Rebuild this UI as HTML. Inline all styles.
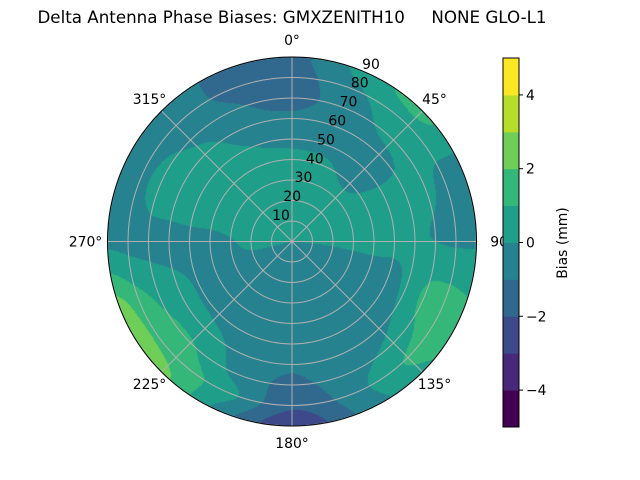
<!DOCTYPE html>
<html><head><meta charset="utf-8"><style>
body{margin:0;background:#fff;}
#wrap{position:relative;width:640px;height:480px;overflow:hidden;font-family:"DejaVu Sans","Liberation Sans",sans-serif;}
canvas,svg{position:absolute;left:0;top:0;}
</style></head><body>
<div id="wrap">
<canvas id="cv" width="640" height="480"></canvas>
<svg id="sv" width="640" height="480" font-family="DejaVu Sans, Liberation Sans, sans-serif"></svg>
</div>
<script>
const azimuths=[0,22.5,45,67.5,90,112.5,135,157.5,180,202.5,225,247.5,270,292.5,315,337.5];
const zeniths=[0,10,20,30,40,50,60,70,80,90];
const biasAz000=[0,0.4,0.5,0.5,0.3,-0.3,-0.8,-1.3,-1.4,-1.3];
const biasAz022=[0,0.4,0.5,0.5,0.2,-0.3,-0.4,-0.5,-0.2,0.3];
const biasAz045=[0,0.4,0.5,0.3,-0.2,-0.4,-0.3,0.3,0.6,1.3];
const biasAz067=[0,0.3,0.5,0.5,0.4,0.3,0.3,0.2,-0.2,-0.4];
const biasAz090=[0,0.1,0.2,0.3,0.3,0.2,0.1,0.0,-0.1,-0.1];
const biasAz112=[-0.1,-0.4,-0.5,-0.5,-0.4,-0.3,0.2,1.2,1.4,1.2];
const biasAz135=[-0.2,-0.5,-0.6,-0.6,-0.5,-0.4,-0.2,0.3,1.1,0.8];
const biasAz157=[-0.2,-0.5,-0.6,-0.6,-0.6,-0.5,-0.4,-0.4,-0.4,-0.8];
const biasAz180=[-0.2,-0.5,-0.6,-0.6,-0.7,-0.8,-0.9,-1.2,-1.8,-2.7];
const biasAz202=[-0.2,-0.5,-0.5,-0.5,-0.5,-0.5,-0.4,-0.3,0.3,-0.5];
const biasAz225=[-0.1,-0.4,-0.4,-0.3,-0.3,-0.2,0.4,1.1,1.6,2.3];
const biasAz247=[0,-0.2,-0.3,-0.4,-0.3,-0.1,0.3,0.8,1.5,2.5];
const biasAz270=[0,0.3,0.4,-0.1,-0.3,-0.3,-0.3,-0.3,-0.3,-0.2];
const biasAz292=[0,0.4,0.5,0.6,0.6,0.6,0.5,0.4,-0.3,-0.5];
const biasAz315=[0,0.4,0.5,0.6,0.6,0.5,0.3,-0.2,-0.5,-0.6];
const biasAz337=[0,0.4,0.5,0.5,0.3,0.0,-0.5,-0.9,-1.2,-1.2];
const levels=[-5,-4,-3,-2,-1,0,1,2,3,4,5];
const colorbarTicks=[-4,-2,0,2,4];
const radialTicks=[10,20,30,40,50,60,70,80,90];
const angleTicks=[0,45,90,135,180,225,270,315];

const grid=[biasAz000,biasAz022,biasAz045,biasAz067,biasAz090,biasAz112,biasAz135,biasAz157,biasAz180,biasAz202,biasAz225,biasAz247,biasAz270,biasAz292,biasAz315,biasAz337];
const colors=["#440154","#482878","#3e4989","#31688e","#26828e","#1f9e89","#35b779","#6ece58","#b5de2b","#fde725"];
const CX=292,CY=241.5,R=184.5,RMAX=90;
function rScale(z){return z/RMAX*R;}
function colorFor(v){for(let i=0;i<levels.length-1;i++){if(v<levels[i+1])return colors[i];}return colors[colors.length-1];}
function cr(p0,p1,p2,p3,t){return 0.5*((2*p1)+(-p0+p2)*t+(2*p0-5*p1+4*p2-p3)*t*t+(-p0+3*p1-3*p2+p3)*t*t*t);}
function colAt(i,z){
  const n=zeniths.length,zs=zeniths[1]-zeniths[0],g=grid[i];
  let f=z/zs,j=Math.min(Math.floor(f),n-2),t=f-j;
  const c=k=>g[Math.max(0,Math.min(n-1,k))];
  return cr(c(j-1),c(j),c(j+1),c(j+2),t);
}
function sample(az,z){
  const m=azimuths.length,step=360/m;
  let a=((az%360)+360)%360,f=a/step,i=Math.floor(f),t=f-i;
  const w=k=>colAt(((k%m)+m)%m,z);
  return cr(w(i-1),w(i),w(i+1),w(i+2),t);
}
const cv=document.getElementById('cv'),ctx=cv.getContext('2d');
for(let y=Math.floor(CY-R)-1;y<=CY+R+1;y++){for(let x=Math.floor(CX-R)-1;x<=CX+R+1;x++){
  const dx=x+0.5-CX,dy=y+0.5-CY,d=Math.hypot(dx,dy);if(d>R)continue;
  const az=Math.atan2(dx,-dy)*180/Math.PI;const z=d/R*RMAX;
  ctx.fillStyle=colorFor(sample(az,z));ctx.fillRect(x,y,1,1);}}
const sv=document.getElementById('sv');const NS='http://www.w3.org/2000/svg';
function mk(t,at,txt){const e=document.createElementNS(NS,t);for(const k in at)e.setAttribute(k,at[k]);if(txt!==undefined)e.textContent=txt;sv.appendChild(e);return e;}
radialTicks.forEach(function(r){
  const c=mk('circle',{cx:CX,cy:CY,r:rScale(r),fill:'none',stroke:'#b0b0b0','stroke-width':1});
  
  
});
angleTicks.forEach(function(a){
  const rad=a*Math.PI/180;
  const l=mk('line',{x1:CX,y1:CY,x2:CX+R*Math.sin(rad),y2:CY-R*Math.cos(rad),stroke:'#b0b0b0','stroke-width':1});
  
  
  const LR=R+17;let tx=CX+LR*Math.sin(rad),ty=CY-LR*Math.cos(rad)+5;
  if(a===90)tx+=9; if(a===270)tx-=5;
  const t=mk('text',{x:tx,y:ty,'font-size':'13.9','text-anchor':'middle',fill:'#000'},a+'°');
  
  
});
radialTicks.forEach(function(r){
  const t=mk('text',{x:269.75+r/10*11.25,y:233.9-r/10*18.9+5,'font-size':'13.9','text-anchor':'middle',fill:'#000'},String(r));
  
  
});
const ob=mk('circle',{cx:CX,cy:CY,r:R,fill:'none',stroke:'#000','stroke-width':1});


const title=mk('text',{x:292,y:23,'font-size':'16.7','text-anchor':'middle',fill:'#000'},'Delta Antenna Phase Biases: GMXZENITH10     NONE GLO-L1');
title.setAttribute('style','white-space:pre');


const CBX=503,CBW=16,CBT=58,CBB=427;
function cbY(v){return CBB-(v-levels[0])/(levels[levels.length-1]-levels[0])*(CBB-CBT);}
for(let i=0;i<levels.length-1;i++){
  const r=mk('rect',{x:CBX,y:cbY(levels[i+1]),width:CBW,height:cbY(levels[i])-cbY(levels[i+1])+0.5,fill:colors[i]});
  
  
}
const cbf=mk('rect',{x:CBX,y:CBT,width:CBW,height:CBB-CBT,fill:'none',stroke:'#000','stroke-width':1});


colorbarTicks.forEach(function(v){
  const y=cbY(v);
  const tk=mk('line',{x1:CBX+CBW,y1:y,x2:CBX+CBW+4,y2:y,stroke:'#000','stroke-width':1});
  
  
  const t=mk('text',{x:CBX+CBW+7,y:y+5,'font-size':'13.9',fill:'#000'},v<0?'\u2212'+(-v):String(v));
  
  
});
const cbl=mk('text',{x:567,y:243,'font-size':'13.9','text-anchor':'middle',fill:'#000',transform:'rotate(-90 567 243)'},'Bias (mm)');


</script>
</body></html>
